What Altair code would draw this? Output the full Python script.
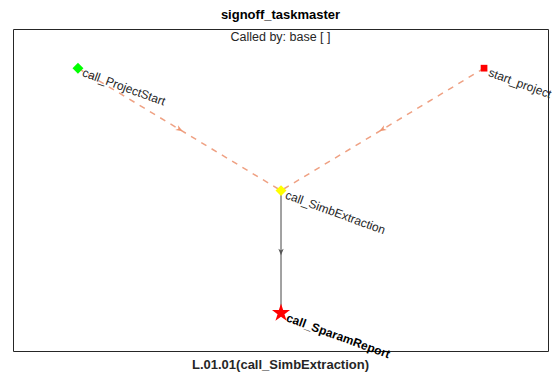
import math
import altair as alt
import pandas as pd

# ---- data ----
node_names = ["call_ProjectStart", "start_project", "call_SimbExtraction", "call_SparamReport"]
node_x = [1.0, 3.0, 2.0, 2.0]
node_y = [3.0, 3.0, 2.0, 1.0]
node_kind = ["dia_g", "sq_r", "dia_y", "star_r"]
node_weight = ["normal", "normal", "normal", "bold"]

edge_src = ["call_ProjectStart", "start_project", "call_SimbExtraction"]
edge_dst = ["call_SimbExtraction", "call_SimbExtraction", "call_SparamReport"]
edge_kind = ["dashed", "dashed", "solid"]

title_text = "signoff_taskmaster"
subtitle_text = "Called by: base [ ]"
xlabel_text = "L.01.01(call_SimbExtraction)"

# ---- layout ----
W, H = 535, 322
xdom = [0.68, 3.315]
ydom = [0.69, 3.32]
px_x = W / (xdom[1] - xdom[0])
px_y = H / (ydom[1] - ydom[0])

nodes = pd.DataFrame({"name": node_names, "x": node_x, "y": node_y,
                      "kind": node_kind, "weight": node_weight})
pos = {n: (x, y) for n, x, y in zip(node_names, node_x, node_y)}

edge_rows, arrow_rows = [], []
for i, (s, d, k) in enumerate(zip(edge_src, edge_dst, edge_kind)):
    (x0, y0), (x1, y1) = pos[s], pos[d]
    edge_rows.append({"edge": i, "o": 0, "x": x0, "y": y0, "kind": k})
    edge_rows.append({"edge": i, "o": 1, "x": x1, "y": y1, "kind": k})
    dxp = (x1 - x0) * px_x
    dyp = -(y1 - y0) * px_y
    ang = math.degrees(math.atan2(dxp, -dyp)) % 360
    arrow_rows.append({"x": (x0 + x1) / 2, "y": (y0 + y1) / 2, "angle": ang, "kind": k})
edges = pd.DataFrame(edge_rows)
arrows = pd.DataFrame(arrow_rows)

xs = alt.Scale(domain=xdom, nice=False, zero=False)
ys = alt.Scale(domain=ydom, nice=False, zero=False)
X = alt.X("x:Q", scale=xs, axis=None)
Y = alt.Y("y:Q", scale=ys, axis=None)

DASH_COL = "#EFA183"
SOLID_COL = "#707070"
FONT = "Liberation Sans"

dashed = alt.Chart(edges[edges.kind == "dashed"]).mark_line(
    color=DASH_COL, strokeWidth=1.5, strokeDash=[6, 6]
).encode(x=X, y=Y, detail="edge:N", order="o:Q")

solid = alt.Chart(edges[edges.kind == "solid"]).mark_line(
    color=SOLID_COL, strokeWidth=1.3
).encode(x=X, y=Y, detail="edge:N", order="o:Q")

ARROW = "M0,-1L0.75,0.9L0,0.35L-0.75,0.9Z"
arrow_dash = alt.Chart(arrows[arrows.kind == "dashed"]).mark_point(
    shape=ARROW, filled=True, color="#EE9672", size=55, opacity=1
).encode(x=X, y=Y, angle=alt.Angle("angle:Q", scale=None))
arrow_solid = alt.Chart(arrows[arrows.kind == "solid"]).mark_point(
    shape=ARROW, filled=True, color="#555555", size=50, opacity=1
).encode(x=X, y=Y, angle=alt.Angle("angle:Q", scale=None))

STAR = ("M0,-1L0.2245,-0.309L0.9511,-0.309L0.3633,0.118L0.5878,0.809"
        "L0,0.382L-0.5878,0.809L-0.3633,0.118L-0.9511,-0.309L-0.2245,-0.309Z")

def node_layer(kind, shape, color, size):
    return alt.Chart(nodes[nodes.kind == kind]).mark_point(
        shape=shape, filled=True, color=color, size=size, opacity=1
    ).encode(x=X, y=Y)

p1 = node_layer("dia_g", "diamond", "#00FF00", 120)
p2 = node_layer("sq_r", "square", "#FF0000", 45)
p3 = node_layer("dia_y", "diamond", "#FFFF00", 120)
p4 = node_layer("star_r", STAR, "#FF0000", 360)

labels_n = alt.Chart(nodes[nodes.weight == "normal"]).mark_text(
    align="left", baseline="middle", angle=20, dx=6, dy=2, fontSize=12, font=FONT, color="#262626"
).encode(x=X, y=Y, text="name:N")
labels_b = alt.Chart(nodes[nodes.weight == "bold"]).mark_text(
    align="left", baseline="middle", angle=20, dx=7, dy=2, fontSize=12, font=FONT,
    fontWeight="bold", color="#000000"
).encode(x=X, y=Y, text="name:N")

title = alt.Chart(pd.DataFrame({"t": [title_text]})).mark_text(
    font=FONT, fontSize=13, fontWeight="bold", color="#000000", baseline="middle"
).encode(x=alt.value(W / 2), y=alt.value(-14), text="t:N")
subtitle = alt.Chart(pd.DataFrame({"t": [subtitle_text]})).mark_text(
    font=FONT, fontSize=12.5, color="#262626", baseline="alphabetic"
).encode(x=alt.value(W / 2), y=alt.value(12), text="t:N")
xlabel = alt.Chart(pd.DataFrame({"t": [xlabel_text]})).mark_text(
    font=FONT, fontSize=13, fontWeight="bold", color="#262626", baseline="alphabetic"
).encode(x=alt.value(W / 2), y=alt.value(H + 18), text="t:N")

chart = alt.layer(
    dashed, solid, arrow_dash, arrow_solid, p1, p2, p3, p4, labels_n, labels_b,
    title, subtitle, xlabel
).properties(
    width=W, height=H, autosize=alt.AutoSizeParams(type="none"),
    padding={"left": 5, "top": 21, "right": 4, "bottom": 22},
    background="white",
).configure_view(stroke="#262626", strokeWidth=1)

chart.save("out.html", embed_options={"renderer": "svg", "actions": False})
